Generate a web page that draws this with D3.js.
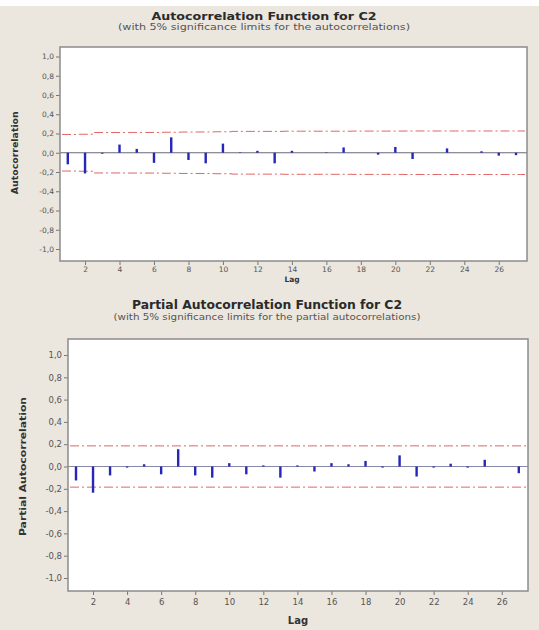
<!DOCTYPE html>
<html>
<head>
<meta charset="utf-8">
<script src="https://cdn.jsdelivr.net/npm/d3@7"></script>
<style>
  html, body { margin: 0; padding: 0; background: #ffffff; }
  svg { display: block; }
  text { font-family: "DejaVu Sans", Verdana, sans-serif; }
</style>
</head>
<body>
<svg id="chart" width="539" height="630"></svg>
<script>
// Lags 1..27
const lags = d3.range(1, 28);

// Autocorrelation values per lag
const acfValues = [-0.12, -0.215, -0.01, 0.085, 0.04, -0.105, 0.16, -0.075, -0.11, 0.095,
                   0.005, 0.02, -0.11, 0.02, 0.0, 0.005, 0.055, 0.0, -0.02, 0.06,
                   -0.065, 0.0, 0.045, 0.0, 0.015, -0.03, -0.025];
// 5% significance limits for the autocorrelations
const acfLimits = [0.19, 0.192, 0.21, 0.21, 0.211, 0.211, 0.213, 0.215, 0.216, 0.218,
                   0.222, 0.222, 0.222, 0.224, 0.224, 0.224, 0.224, 0.225, 0.225, 0.225,
                   0.226, 0.226, 0.226, 0.226, 0.226, 0.226, 0.226];

// Partial autocorrelation values per lag
const pacfValues = [-0.125, -0.235, -0.08, -0.01, 0.02, -0.07, 0.155, -0.08, -0.1, 0.03,
                    -0.07, 0.01, -0.1, 0.01, -0.045, 0.03, 0.02, 0.05, -0.01, 0.1,
                    -0.09, -0.01, 0.025, -0.01, 0.06, 0.0, -0.06];
// 5% significance limit for the partial autocorrelations
const pacfLimit = 0.185;

// Axis tick values
const yTicks = [1.0, 0.8, 0.6, 0.4, 0.2, 0.0, -0.2, -0.4, -0.6, -0.8, -1.0];
const xTicks = [2, 4, 6, 8, 10, 12, 14, 16, 18, 20, 22, 24, 26];

const svg = d3.select("#chart");
const fmt = v => d3.format(".1f")(v).replace(".", ",").replace("−", "-");

// page background
svg.append("rect").attr("width", 539).attr("height", 630).attr("fill", "#ebe6de");
svg.append("rect").attr("width", 539).attr("height", 6).attr("fill", "#ffffff");

function drawPanel(cfg) {
  const g = svg.append("g");
  const x = d3.scaleLinear().domain([1, 27]).range(cfg.xRange);
  const y = d3.scaleLinear().domain([-1, 1]).range(cfg.yRange);
  const f = cfg.frame;

  // titles
  g.append("text").attr("x", cfg.titleX).attr("y", cfg.titleY)
    .attr("text-anchor", "middle").attr("font-weight", "bold")
    .attr("font-size", cfg.titleSize).attr("fill", "#2a2a2a")
    .attr("textLength", cfg.titleLen).attr("lengthAdjust", "spacingAndGlyphs")
    .text(cfg.title);
  g.append("text").attr("x", cfg.titleX).attr("y", cfg.subY)
    .attr("text-anchor", "middle").attr("font-size", cfg.subSize).attr("fill", "#555")
    .attr("textLength", cfg.subLen).attr("lengthAdjust", "spacingAndGlyphs")
    .text(cfg.subtitle);

  // plot area
  g.append("rect").attr("x", f.left).attr("y", f.top)
    .attr("width", f.right - f.left).attr("height", f.bottom - f.top)
    .attr("fill", "#ffffff");

  // y axis
  const yAxis = d3.axisLeft(y).tickValues(yTicks).tickFormat(fmt).tickSize(4).tickPadding(2);
  const ya = g.append("g").attr("transform", `translate(${f.left},0)`).call(yAxis);
  ya.select(".domain").remove();
  ya.selectAll(".tick line").attr("stroke", "#777");
  ya.selectAll(".tick text").attr("font-size", cfg.tickSize).attr("fill", "#555")
    .attr("font-family", "DejaVu Sans, sans-serif");

  // x axis
  const xAxis = d3.axisBottom(x).tickValues(xTicks).tickFormat(d3.format("d")).tickSize(4).tickPadding(cfg.xPad);
  const xa = g.append("g").attr("transform", `translate(0,${f.bottom})`).call(xAxis);
  xa.select(".domain").remove();
  xa.selectAll(".tick line").attr("stroke", "#777");
  xa.selectAll(".tick text").attr("font-size", cfg.tickSize).attr("fill", "#555")
    .attr("font-family", "DejaVu Sans, sans-serif");

  // axis titles
  g.append("text").attr("transform", `translate(${cfg.yLabelX},${(y(1) + y(-1)) / 2}) rotate(-90)`)
    .attr("text-anchor", "middle").attr("dominant-baseline", "middle")
    .attr("font-weight", "bold").attr("font-size", cfg.yLabelSize).attr("fill", "#333")
    .attr("textLength", cfg.yLabelLen).attr("lengthAdjust", "spacingAndGlyphs")
    .text(cfg.yLabel);
  g.append("text").attr("x", cfg.lagX).attr("y", cfg.lagY)
    .attr("text-anchor", "middle").attr("font-weight", "bold")
    .attr("font-size", cfg.lagSize).attr("fill", "#333").text("Lag");

  // zero reference line
  g.append("line").attr("x1", f.left).attr("x2", f.right)
    .attr("y1", y(0)).attr("y2", y(0))
    .attr("stroke", cfg.zeroColor).attr("stroke-width", 1.2);

  // significance limits
  const lim = lags.map((l, i) => ({ lag: l, v: cfg.limits[i] }));
  const ext = [{ lag: x.invert(f.left + 2), v: lim[0].v }, ...lim,
               { lag: x.invert(f.right - 2), v: lim[lim.length - 1].v }];
  const limLine = sign => d3.line().curve(d3.curveStep)
    .x(d => x(d.lag)).y(d => y(sign * d.v));
  [1, -1].forEach(s => {
    g.append("path").datum(ext).attr("d", limLine(s))
      .attr("fill", "none").attr("stroke", "#d9403f").attr("stroke-width", 1)
      .attr("stroke-dasharray", "9,3,2,3").attr("opacity", 0.8);
  });

  // correlation bars
  g.selectAll(".bar").data(cfg.values).enter().append("rect")
    .attr("x", (d, i) => x(lags[i]) - 1.2)
    .attr("y", d => Math.min(y(d), y(0)))
    .attr("width", 2.4)
    .attr("height", d => Math.abs(y(d) - y(0)))
    .attr("fill", "#2626b8");

  // frame
  g.append("rect").attr("x", f.left).attr("y", f.top)
    .attr("width", f.right - f.left).attr("height", f.bottom - f.top)
    .attr("fill", "none").attr("stroke", "#8c8c8c").attr("stroke-width", 1.5);
}

drawPanel({
  title: "Autocorrelation Function for C2",
  subtitle: "(with 5% significance limits for the autocorrelations)",
  titleX: 264, titleY: 20, titleSize: 11, titleLen: 225,
  subY: 30, subSize: 8, subLen: 292,
  frame: { left: 60, right: 527, top: 47, bottom: 261 },
  xRange: [67.8, 516], yRange: [249, 56.5],
  tickSize: 7.5, xPad: 2,
  yLabel: "Autocorrelation", yLabelX: 15, yLabelSize: 8.5, yLabelLen: 83,
  lagX: 292, lagY: 282, lagSize: 7.5,
  zeroColor: "#6a6a7a",
  limits: acfLimits, values: acfValues
});

drawPanel({
  title: "Partial Autocorrelation Function for C2",
  subtitle: "(with 5% significance limits for the partial autocorrelations)",
  titleX: 267, titleY: 309, titleSize: 12, titleLen: 270,
  subY: 320, subSize: 8.5, subLen: 307,
  frame: { left: 68, right: 528, top: 339, bottom: 591 },
  xRange: [76, 518.8], yRange: [578, 355],
  tickSize: 8.5, xPad: 4,
  yLabel: "Partial Autocorrelation", yLabelX: 23, yLabelSize: 9.5, yLabelLen: 139,
  lagX: 298, lagY: 624, lagSize: 10,
  zeroColor: "#8888a8",
  limits: lags.map(() => pacfLimit), values: pacfValues
});
</script>
</body>
</html>
